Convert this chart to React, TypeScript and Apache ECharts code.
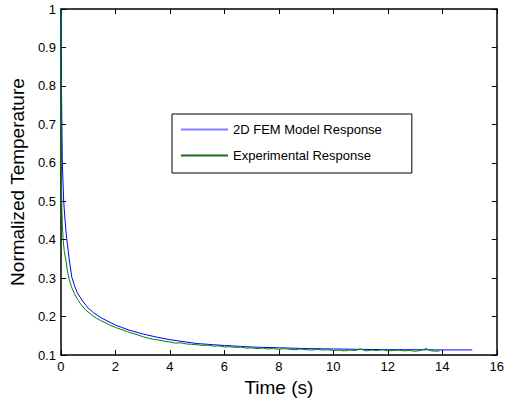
import React, { useEffect, useRef } from "react";
import * as echarts from "echarts";

const xTickLabels = ["0", "2", "4", "6", "8", "10", "12", "14", "16"];
const yTickLabels = ["0.1", "0.2", "0.3", "0.4", "0.5", "0.6", "0.7", "0.8", "0.9", "1"];

const seriesNames = ["2D FEM Model Response", "Experimental Response"];

const femTime = [0, 0.02, 0.05, 0.1, 0.15, 0.2, 0.3, 0.4, 0.5, 0.6, 0.8, 1.0, 1.2, 1.5, 2, 2.5, 3, 3.5, 4, 5, 6, 7, 8, 9, 10, 11, 12, 13, 14, 15.1];
const femValue = [1.0, 0.78, 0.6, 0.5, 0.45, 0.41, 0.35, 0.302, 0.28, 0.262, 0.24, 0.222, 0.21, 0.196, 0.178, 0.165, 0.155, 0.147, 0.14, 0.13, 0.125, 0.121, 0.119, 0.117, 0.116, 0.115, 0.114, 0.114, 0.1135, 0.1135];

const expTime = [0, 0.005, 0.01, 0.02, 0.03, 0.05, 0.08, 0.12, 0.18, 0.24, 0.3, 0.4, 0.5, 0.61, 0.7, 0.8, 0.9, 1.03, 1.15, 1.3, 1.45, 1.64, 1.8, 2.0, 2.2, 2.4, 2.55, 2.8, 3.0,
  3.2, 3.4, 3.6, 3.8, 4.0, 4.2, 4.4, 4.6, 4.8, 5.0, 5.2, 5.4, 5.6, 5.8, 6.0, 6.2, 6.4, 6.6, 6.8, 7.0, 7.2, 7.4, 7.6, 7.8, 8.0, 8.2, 8.4, 8.6, 8.8, 9.0,
  9.2, 9.4, 9.6, 9.8, 10.0, 10.2, 10.4, 10.6, 10.8, 11.0, 11.2, 11.4, 11.6, 11.8, 12.0, 12.2, 12.4, 12.6, 12.8, 13.0, 13.2, 13.4, 13.6, 13.8, 13.9];
const expValue = [1.0, 0.8, 0.65, 0.53, 0.49, 0.44, 0.4, 0.37, 0.347, 0.318, 0.297, 0.275, 0.259, 0.245, 0.235, 0.226, 0.218, 0.21, 0.203, 0.196, 0.19, 0.184, 0.178, 0.172, 0.167, 0.162, 0.158, 0.153, 0.148,
  0.144, 0.141, 0.139, 0.136, 0.134, 0.131, 0.132, 0.129, 0.128, 0.127, 0.125, 0.126, 0.123, 0.124, 0.121, 0.122, 0.12, 0.121, 0.118, 0.119, 0.117, 0.118, 0.116, 0.117, 0.115, 0.117, 0.115, 0.114, 0.116, 0.114,
  0.113, 0.115, 0.113, 0.114, 0.112, 0.113, 0.111, 0.113, 0.112, 0.116, 0.111, 0.113, 0.112, 0.114, 0.111, 0.112, 0.113, 0.111, 0.112, 0.11, 0.112, 0.117, 0.111, 0.11, 0.111];

const FONT = "Liberation Sans, Arial, sans-serif";

export default function App() {
  const ref = useRef<HTMLDivElement>(null);
  useEffect(() => {
    if (!ref.current) return;
    const chart = echarts.init(ref.current, null, { renderer: "svg" });
    const tick = { show: true, inside: true, length: 5, lineStyle: { color: "#000", width: 1 } };
    const line = { show: true, onZero: false, lineStyle: { color: "#000", width: 1.5 } };
    chart.setOption({
      animation: false,
      backgroundColor: "#fff",
      grid: { left: 60, right: 9, top: 9, bottom: 46, containLabel: false },
      legend: {
        left: 172,
        top: 114,
        orient: "vertical",
        padding: [9, 30, 11, 9],
        itemGap: 13,
        itemWidth: 47,
        itemHeight: 2,
        icon: "rect",
        borderColor: "#000",
        borderWidth: 1,
        backgroundColor: "#fff",
        itemStyle: { borderWidth: 0 },
        textStyle: { fontSize: 13, fontFamily: FONT, color: "#000" },
        data: [
          { name: seriesNames[0], itemStyle: { color: "#8080ff", borderWidth: 0 } },
          { name: seriesNames[1], itemStyle: { color: "#1a6e1a", borderWidth: 0 } },
        ],
      },
      xAxis: [
        {
          type: "value",
          min: 0,
          max: 16,
          interval: 2,
          position: "bottom",
          name: "Time (s)",
          nameLocation: "middle",
          nameGap: 19,
          nameTextStyle: { fontSize: 19, fontFamily: FONT, color: "#000" },
          axisLine: line,
          axisTick: tick,
          splitLine: { show: false },
          axisLabel: {
            fontSize: 13,
            fontFamily: FONT,
            color: "#000",
            margin: 5,
            formatter: (v: number) => xTickLabels[Math.round(v / 2)] ?? String(v),
          },
        },
        {
          type: "value",
          min: 0,
          max: 16,
          interval: 2,
          position: "top",
          axisLine: line,
          axisTick: tick,
          splitLine: { show: false },
          axisLabel: { show: false },
        },
      ],
      yAxis: [
        {
          type: "value",
          min: 0.1,
          max: 1,
          interval: 0.1,
          position: "left",
          name: "Normalized Temperature",
          nameLocation: "middle",
          nameGap: 30,
          nameTextStyle: { fontSize: 19, fontFamily: FONT, color: "#000" },
          axisLine: line,
          axisTick: tick,
          splitLine: { show: false },
          axisLabel: {
            fontSize: 13,
            fontFamily: FONT,
            color: "#000",
            margin: 5,
            formatter: (v: number) => yTickLabels[Math.round(v * 10) - 1] ?? String(v),
          },
        },
        {
          type: "value",
          min: 0.1,
          max: 1,
          interval: 0.1,
          position: "right",
          axisLine: line,
          axisTick: tick,
          splitLine: { show: false },
          axisLabel: { show: false },
        },
      ],
      series: [
        {
          name: seriesNames[0],
          type: "line",
          xAxisIndex: 0,
          yAxisIndex: 0,
          symbol: "none",
          smooth: false,
          color: "#0000ff",
          lineStyle: { color: "#0000ff", width: 1 },
          data: femTime.map((t, i) => [t, femValue[i]]),
          z: 2,
        },
        {
          name: seriesNames[1],
          type: "line",
          xAxisIndex: 0,
          yAxisIndex: 0,
          symbol: "none",
          color: "#008000",
          lineStyle: { color: "#008000", width: 1 },
          data: expTime.map((t, i) => [t, expValue[i]]),
          z: 3,
        },
      ],
    });
    return () => chart.dispose();
  }, []);
  return <div ref={ref} style={{ position: "fixed", left: 0, top: 0, width: 507, height: 402 }} />;
}
